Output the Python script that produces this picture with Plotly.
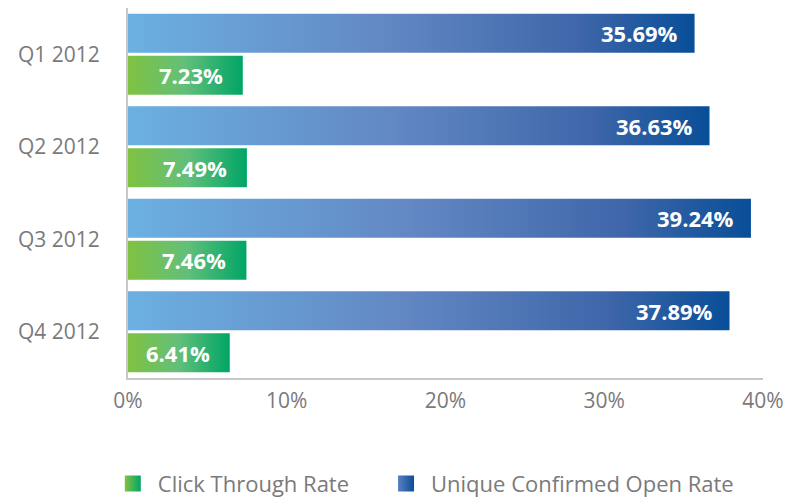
import plotly.graph_objects as go

quarters = ["Q1 2012", "Q2 2012", "Q3 2012", "Q4 2012"]
open_rate = [35.69, 36.63, 39.24, 37.89]
click_rate = [7.23, 7.49, 7.46, 6.41]
x_tick_values = [0, 10, 20, 30, 40]
x_tick_labels = ["0%", "10%", "20%", "30%", "40%"]

BLUE_SCALE = [[0, "#6cb0e2"], [0.45, "#6388c4"], [0.8, "#3e66a9"], [1, "#084e98"]]
GREEN_SCALE = [[0, "#80c241"], [0.5, "#62bf7a"], [1, "#00a566"]]
FONT = "Open Sans"
GRAY = "#7a7a7a"

fig = go.Figure()

def add_bar(i, v, lo, hi, scale, group):
    fig.add_trace(go.Scatter(
        x=[0, v, v, 0, 0], y=[lo, lo, hi, hi, lo],
        fill="toself", mode="lines", line=dict(width=0),
        fillgradient=dict(type="horizontal", colorscale=scale),
        legendgroup=group, showlegend=False,
        hoverinfo="text", text=f"{quarters[i]}: {v:.2f}%",
    ))

for i, v in enumerate(open_rate):
    add_bar(i, v, i - 0.438, i - 0.016, BLUE_SCALE, "open")
for i, v in enumerate(click_rate):
    add_bar(i, v, i + 0.016, i + 0.438, GREEN_SCALE, "ctr")

# legend entries
fig.add_trace(go.Scatter(x=[None], y=[None], mode="markers", name="Click Through Rate",
                         legendgroup="ctr", legend="legend",
                         marker=dict(symbol="square", size=16, color="#80c241",
                                     gradient=dict(type="horizontal", color="#00a566"))))
fig.add_trace(go.Scatter(x=[None], y=[None], mode="markers", name="Unique Confirmed Open Rate",
                         legendgroup="open", legend="legend2",
                         marker=dict(symbol="square", size=16, color="#5a80c2",
                                     gradient=dict(type="horizontal", color="#084e98"))))

for i, v in enumerate(open_rate):
    fig.add_annotation(x=v, y=i - 0.227, text=f"<b>{v:.2f}%</b>", showarrow=False,
                       xanchor="right", xshift=-15, font=dict(family=FONT, size=22, color="white"))
for i, v in enumerate(click_rate):
    fig.add_annotation(x=v, y=i + 0.227, text=f"<b>{v:.2f}%</b>", showarrow=False,
                       xanchor="right", xshift=-18, font=dict(family=FONT, size=22, color="white"))

legend_style = dict(orientation="h", xref="container", yref="container",
                    xanchor="left", y=0.027, yanchor="middle",
                    font=dict(family=FONT, size=22, color=GRAY), itemwidth=40,
                    bgcolor="rgba(0,0,0,0)")

fig.update_layout(
    width=792, height=489,
    margin=dict(l=120, r=37, t=0, b=119),
    plot_bgcolor="white", paper_bgcolor="white",
    font=dict(family=FONT, size=20, color=GRAY),
    xaxis=dict(range=[0, 40], tickvals=x_tick_values, ticktext=x_tick_labels,
               showgrid=False, zeroline=False, showline=True, linecolor="#c8c8c8",
               linewidth=2, ticks="", ticklabelstandoff=3, automargin=False,
               tickfont=dict(family=FONT, size=21, color=GRAY)),
    yaxis=dict(range=[3.5, -0.5], tickvals=list(range(len(quarters))), ticktext=quarters,
               showgrid=False, zeroline=False, showline=True, linecolor="#c8c8c8",
               linewidth=2, ticks="", ticklabelstandoff=22, automargin=False,
               tickfont=dict(family=FONT, size=21, color=GRAY)),
    legend=dict(x=0.126, **legend_style),
    legend2=dict(x=0.471, **legend_style),
    showlegend=True,
)

fig.write_html("out.html")
